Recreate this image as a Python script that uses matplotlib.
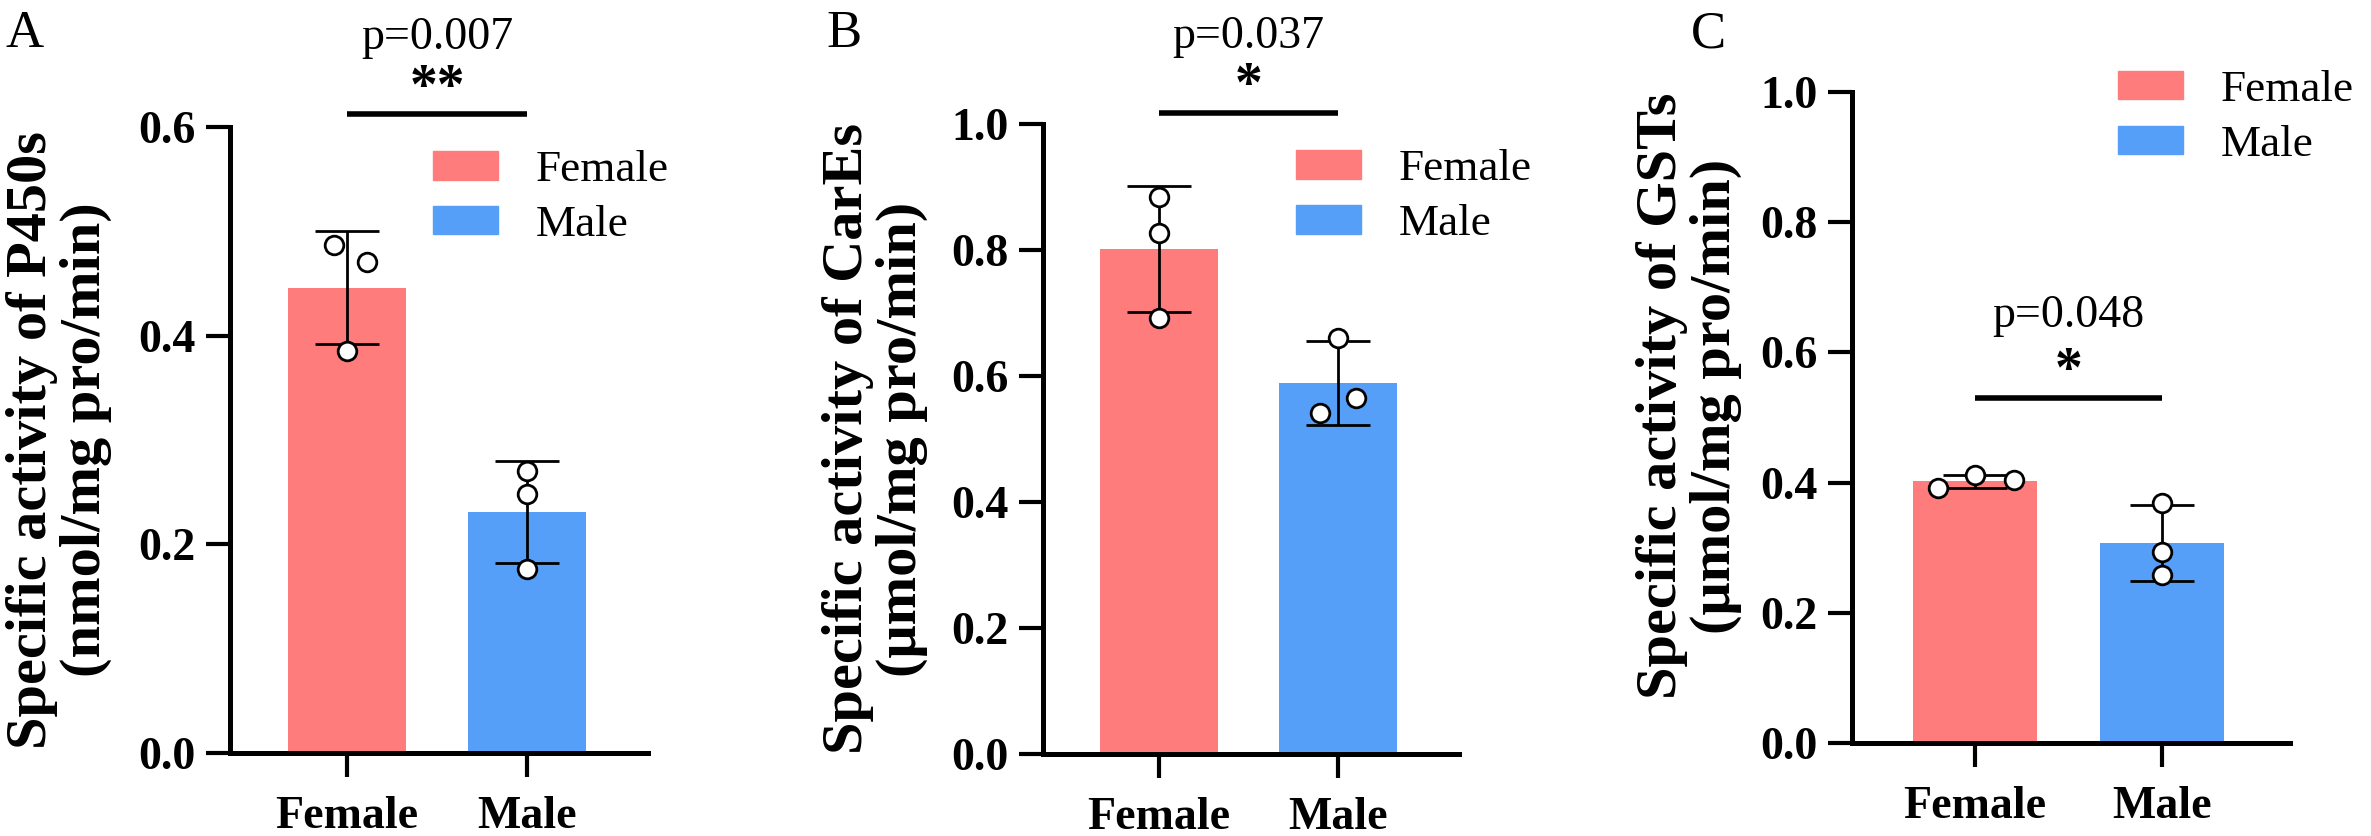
import numpy as np
import matplotlib.pyplot as plt
from matplotlib.patches import Patch

plt.rcParams['font.family'] = ['Liberation Serif', 'DejaVu Serif']

W, H = 2371, 836

groups = ['Female', 'Male']
colors = ['#FF7C7C', '#559FF9']

letters = ['A', 'B', 'C']
ylabels = ['Specific activity of P450s\n(nmol/mg pro/min)',
           'Specific activity of CarEs\n(μmol/mg pro/min)',
           'Specific activity of GSTs\n(μmol/mg pro/min)']
ymax = [0.6, 1.0, 1.0]
yticks = [[0.0, 0.2, 0.4, 0.6],
          [0.0, 0.2, 0.4, 0.6, 0.8, 1.0],
          [0.0, 0.2, 0.4, 0.6, 0.8, 1.0]]

# group means and SD
means = [[0.446, 0.231], [0.801, 0.589], [0.402, 0.307]]
sds = [[0.054, 0.049], [0.100, 0.067], [0.010, 0.058]]
# replicate points
points = [[[0.487, 0.471, 0.385], [0.270, 0.248, 0.176]],
          [[0.884, 0.827, 0.692], [0.660, 0.565, 0.541]],
          [[0.392, 0.412, 0.404], [0.369, 0.293, 0.258]]]
jitter = [[[-0.07, 0.11, 0.0], [0.0, 0.0, 0.0]],
          [[0.0, 0.0, 0.0], [0.0, 0.1, -0.1]],
          [[-0.2, 0.0, 0.21], [0.0, 0.0, 0.0]]]
pvals = ['p=0.007', 'p=0.037', 'p=0.048']
stars = ['**', '*', '*']
sig_y = [0.612, 1.017, 0.530]

# layout (pixels): left, top, right, bottom of each plot area
boxes = [(230, 127, 648, 753), (1043, 124, 1459, 754), (1852, 92, 2290, 743)]
xlims = [(-0.65, 1.672), (-0.648, 1.676), (-0.658, 1.684)]
p_off = [47, 47, 51]
leg_xy = [(0.486, 0.963), (0.608, 0.960), (0.607, 1.034)]
lab_xy = [(-0.282, 0.5), (-0.276, 0.5), (-0.251, 0.533)]
letter_xy = [(5, 47), (826, 47), (1691, 48)]

fig = plt.figure(figsize=(W / 100, H / 100), dpi=100)

for i in range(3):
    l, t, r, b = boxes[i]
    ax = fig.add_axes([l / W, 1 - b / H, (r - l) / W, (b - t) / H])
    x = np.arange(len(groups))
    ax.bar(x, means[i], width=0.66, color=colors, zorder=2)
    ax.errorbar(x, means[i], yerr=sds[i], fmt='none', ecolor='black',
                elinewidth=2, capsize=23, capthick=2, zorder=3)
    for j in range(len(groups)):
        ax.scatter(x[j] + np.array(jitter[i][j]), points[i][j], s=180,
                   facecolor='white', edgecolor='black', linewidth=2,
                   zorder=4, clip_on=False)

    ax.plot([0, 1], [sig_y[i], sig_y[i]], color='black', lw=4,
            solid_capstyle='butt', clip_on=False)
    ax.annotate(stars[i], xy=(0.5, sig_y[i]), xytext=(0, 8.5),
                textcoords='offset points', ha='center', va='baseline',
                fontsize=40, fontweight='bold', annotation_clip=False)
    ax.annotate(pvals[i], xy=(0.5, sig_y[i]), xytext=(0, p_off[i]),
                textcoords='offset points', ha='center', va='baseline',
                fontsize=33, annotation_clip=False)

    ax.set_xlim(*xlims[i])
    ax.set_ylim(0, ymax[i])
    ax.set_xticks(x)
    ax.set_xticklabels(groups)
    ax.set_yticks(yticks[i])
    ax.set_yticklabels(['%.1f' % v for v in yticks[i]])
    for s in ['top', 'right']:
        ax.spines[s].set_visible(False)
    for s in ['left', 'bottom']:
        ax.spines[s].set_linewidth(3.6)
    ax.tick_params(width=3, length=17, labelsize=33)
    ax.tick_params(axis='y', pad=8)
    ax.tick_params(axis='x', pad=14)
    for lab in ax.get_xticklabels() + ax.get_yticklabels():
        lab.set_fontweight('bold')

    ax.set_ylabel(ylabels[i], fontsize=42, fontweight='bold', linespacing=1.05)
    ax.yaxis.set_label_coords(*lab_xy[i])

    handles = [Patch(color=c, label=g) for c, g in zip(colors, groups)]
    ax.legend(handles=handles, loc='upper left', bbox_to_anchor=leg_xy[i],
              frameon=False, fontsize=32.5, handlelength=1.44,
              handleheight=0.6, handletextpad=0.84, labelspacing=0.33,
              borderpad=0, borderaxespad=0)

    fig.text(letter_xy[i][0] / W, 1 - letter_xy[i][1] / H, letters[i],
             fontsize=38, va='baseline', ha='left')

fig.savefig('out.png', dpi=100)
